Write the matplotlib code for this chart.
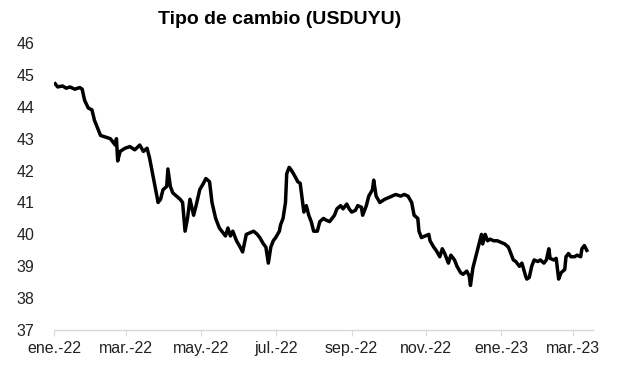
import pandas as pd
import matplotlib.pyplot as plt

# Tipo de cambio USDUYU, valores leidos del grafico
# dias contados desde 2022-01-01
inicio = "2022-01-01"
dias = [1, 3, 7, 10, 13, 17, 21, 23, 25, 28, 31, 33, 38, 42, 46, 50, 51, 52, 54, 58,
        62, 66, 70, 73, 76, 78, 81, 83, 85, 87, 89, 92, 93, 95, 97, 100, 103, 105, 107, 109,
        111, 114, 116, 119, 122, 124, 127, 129, 132, 135, 137, 140, 142, 144, 146, 149, 152, 154, 157, 160,
        163, 166, 168, 171, 173, 175, 177, 179, 181, 184, 185, 187, 189, 190, 192, 194, 197, 199, 201, 203,
        204, 206, 208, 210, 212, 215, 217, 220, 222, 225, 229, 231, 234, 236, 239, 241, 243, 246, 248, 251,
        252, 255, 257, 260, 261, 263, 266, 268, 270, 273, 276, 279, 283, 286, 289, 292, 294, 297, 298, 300,
        303, 306, 307, 310, 312, 315, 317, 319, 322, 324, 327, 329, 332, 334, 337, 339, 340, 342, 345, 347,
        349, 350, 352, 354, 356, 359, 362, 365, 368, 371, 373, 375, 377, 380, 382, 385, 386, 388, 390, 392,
        395, 397, 400, 402, 404, 405, 408, 410, 412, 414, 417, 418, 420, 422, 425, 427, 430, 431, 433, 435]
usduyu = [44.72, 44.62, 44.65, 44.58, 44.62, 44.55, 44.6, 44.55, 44.2, 43.96, 43.9, 43.58, 43.1, 43.05, 43.0, 42.8, 43.0, 42.3, 42.6, 42.7,
          42.75, 42.65, 42.8, 42.6, 42.7, 42.4, 41.8, 41.4, 41.0, 41.1, 41.4, 41.5, 42.05, 41.5, 41.3, 41.2, 41.1, 41.0, 40.1, 40.5,
          41.1, 40.6, 40.9, 41.4, 41.6, 41.75, 41.65, 41.0, 40.5, 40.2, 40.1, 39.95, 40.2, 39.95, 40.1, 39.8, 39.6, 39.45, 40.0, 40.05,
          40.1, 40.0, 39.9, 39.7, 39.6, 39.1, 39.6, 39.8, 39.9, 40.1, 40.3, 40.5, 41.0, 41.9, 42.1, 42.0, 41.8, 41.65, 41.6, 41.0,
          40.7, 40.9, 40.6, 40.4, 40.1, 40.1, 40.4, 40.5, 40.45, 40.4, 40.6, 40.8, 40.9, 40.8, 40.95, 40.8, 40.7, 40.75, 40.9, 40.85,
          40.6, 40.9, 41.2, 41.4, 41.7, 41.2, 41.0, 41.05, 41.1, 41.15, 41.2, 41.25, 41.2, 41.25, 41.2, 41.0, 40.6, 40.5, 40.1, 39.9,
          39.95, 40.0, 39.8, 39.6, 39.5, 39.3, 39.55, 39.4, 39.1, 39.35, 39.2, 39.0, 38.8, 38.75, 38.85, 38.7, 38.4, 38.95, 39.4, 39.7,
          40.0, 39.7, 40.0, 39.8, 39.85, 39.8, 39.8, 39.75, 39.7, 39.6, 39.4, 39.2, 39.15, 39.0, 39.1, 38.7, 38.6, 38.65, 39.0, 39.2,
          39.15, 39.2, 39.1, 39.2, 39.55, 39.25, 39.2, 39.25, 38.6, 38.8, 38.9, 39.3, 39.4, 39.3, 39.3, 39.35, 39.3, 39.55, 39.65, 39.5]

etiquetas_x = ["ene.-22", "mar.-22", "may.-22", "jul.-22", "sep.-22", "nov.-22", "ene.-23", "mar.-23"]
fechas_ticks = ["2022-01-01", "2022-03-01", "2022-05-01", "2022-07-01", "2022-09-01",
                "2022-11-01", "2023-01-01", "2023-03-01"]
ticks_y = list(range(37, 47))

plt.rcParams['font.family'] = ['Liberation Sans', 'DejaVu Sans']

fechas = pd.Timestamp(inicio) + pd.to_timedelta(dias, unit="D")

fig = plt.figure(figsize=(6.17, 3.83), dpi=100)
ax = fig.add_axes([0.0875, 0.138, 0.8735, 0.75])

ax.plot(fechas, usduyu, color="black", linewidth=2.5, solid_joinstyle="round")

ax.set_ylim(37, 46)
ax.set_yticks(ticks_y)
ax.set_xlim(pd.Timestamp("2022-01-01"), pd.Timestamp("2023-03-17"))
ax.set_xticks(pd.to_datetime(fechas_ticks))
ax.set_xticklabels(etiquetas_x)

for lado in ["top", "right", "left"]:
    ax.spines[lado].set_visible(False)
ax.spines["bottom"].set_color("#d9d9d9")
ax.spines["bottom"].set_linewidth(1)

ax.tick_params(axis="y", length=0, pad=14, labelsize=11.5, colors="#222222")
ax.tick_params(axis="x", length=4, color="#d9d9d9", pad=4, labelsize=11.5, labelcolor="#222222")

fig.text(0.454, 0.948, "Tipo de cambio (USDUYU)", ha="center", va="center",
         fontsize=14, fontweight="bold")

fig.savefig("out.png", dpi=100)
